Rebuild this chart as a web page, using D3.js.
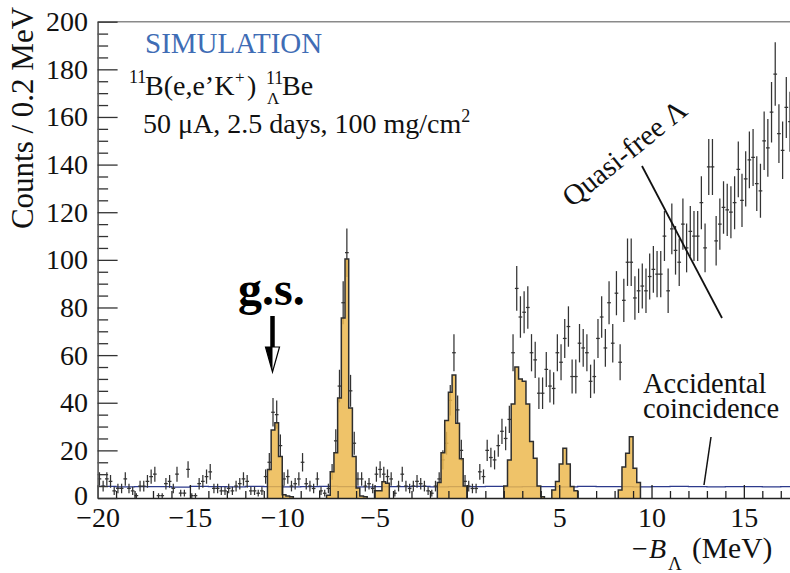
<!DOCTYPE html>
<html>
<head>
<meta charset="utf-8">
<script src="https://cdn.jsdelivr.net/npm/d3@7"></script>
<style>
  html, body { margin: 0; padding: 0; background: #fff; }
  svg { display: block; font-family: "Liberation Serif", "Times New Roman", serif; }
</style>
</head>
<body>
<svg id="chart" width="790" height="573"></svg>
<script>
// Histogram binning (MeV)
const binLow = -20;
const binWidth = 0.2;

// Simulated counts per 0.2 MeV bin, starting at -20 MeV
const counts = [
  8, 5, 8, 7, 3, 4, 4, 8, 4, 3,
  1, 5, 5, 7, 9, 10, 1, 1, 6, 7,
  4, 10, 2, 2, 12, 1, 1, 6, 7, 9,
  11, 4, 4, 3, 3, 4, 3, 5, 6, 8,
  7, 3, 3, 2, 3, 9, 15, 36, 35, 22,
  8, 9, 5, 6, 8, 15, 6, 5, 4, 8,
  3, 2, 4, 11, 24, 47, 82, 103, 45, 23,
  8, 8, 5, 6, 4, 10, 12, 10, 9, 8,
  2, 5, 10, 5, 4, 5, 7, 6, 5, 3,
  2, 5, 8, 16, 23, 41, 61, 37, 20, 7,
  5, 4, 4, 11, 9, 20, 17, 16, 22, 28,
  25, 33, 61, 88, 76, 78, 80, 61, 58, 44,
  44, 54, 47, 46, 61, 57, 67, 72, 51, 51,
  65, 63, 61, 49, 51, 67, 76, 63, 82, 65,
  86, 57, 83, 99, 99, 84, 87, 89, 87, 93,
  96, 94, 94, 110, 87, 113, 104, 99, 115, 105,
  112, 110, 110, 124, 105, 139, 139, 108, 115, 122,
  121, 120, 124, 138, 125, 134, 142, 143, 132, 129,
  150, 147, 162, 178, 153, 146, 164, 158
];

// Hypernuclear state peaks: low edge of first bin and counts per bin
const peakStarts = [-10.8, -7.6, -5.0, -1.6, 2.0, 4.6, 8.2];
const peakCounts = [
  [12, 28.6, 31.6, 17.4, 1.4, 0.8, 0.5],
  [1.2, 11, 19, 42, 75.6, 100.4, 37.8, 17.4, 4.2, 0.8, 0.5],
  [3, 3, 6.8, 6.2],
  [6.5, 19, 32.5, 44.4, 51.7, 31.4, 16.5, 5],
  [5, 16, 39.5, 55, 50, 49, 39.5, 23.7, 16.7, 5, 0.5],
  [3.4, 6.9, 14.3, 20.9, 14.3, 4.8, 3],
  [3.4, 13, 18.8, 25.7, 12.5, 6.5]
];

// Accidental coincidence level, one value per 1 MeV from -20 MeV
const accidentalStep = 1.0;
const accidentalLevel = [
  4.9, 4.7, 4.8, 4.8, 4.6, 4.9, 4.8, 4.7, 4.9, 4.8,
  4.7, 4.8, 4.9, 4.8, 4.7, 4.8, 4.8, 4.9, 4.7, 4.8,
  4.8, 4.9, 4.7, 4.8, 4.8, 4.7, 4.9, 4.8, 4.8, 4.7,
  4.8, 4.9, 4.8, 4.7, 4.8, 4.8, 4.7, 4.8
];

// Axis ticks
const xTicks = [-20, -15, -10, -5, 0, 5, 10, 15];
const xTickLabels = ["\u221220", "\u221215", "\u221210", "\u22125", "0", "5", "10", "15"];
const xMinorTicks = d3.range(-19, 18, 1).filter(v => v % 5 !== 0);
const yTicks = [0, 20, 40, 60, 80, 100, 120, 140, 160, 180, 200];
const yTickLabels = ["0", "20", "40", "60", "80", "100", "120", "140", "160", "180", "200"];
const yMinorTicks = d3.range(5, 200, 5).filter(v => v % 20 !== 0);

const svg = d3.select("#chart");
const W = 790, H = 573;
const plot = { left: 97.6, right: 790, top: 21.7, bottom: 498 };

const x = d3.scaleLinear().domain([-20, 17.5]).range([plot.left, plot.right]);
const y = d3.scaleLinear().domain([0, 200]).range([plot.bottom, plot.top]);

svg.append("rect").attr("width", W).attr("height", H).attr("fill", "#fff");

svg.append("defs").append("clipPath").attr("id", "plotClip")
  .append("rect")
  .attr("x", plot.left).attr("y", plot.top)
  .attr("width", plot.right - plot.left).attr("height", plot.bottom - plot.top);

// Frame top edge
svg.append("line")
  .attr("x1", plot.left).attr("x2", plot.right)
  .attr("y1", plot.top).attr("y2", plot.top)
  .attr("stroke", "#8a8a8a").attr("stroke-width", 1.6);

const inner = svg.append("g").attr("clip-path", "url(#plotClip)");

// Accidental coincidence background
const accPts = accidentalLevel.map((v, j) => [binLow + j * accidentalStep, v]);
accPts.push([binLow + accidentalLevel.length * accidentalStep, accidentalLevel[accidentalLevel.length - 1]]);
inner.append("path")
  .datum(accPts)
  .attr("fill", "none")
  .attr("stroke", "#2c3a8c")
  .attr("stroke-width", 1.3)
  .attr("d", d3.line().x(d => x(d[0])).y(d => y(d[1])).curve(d3.curveStepAfter));

// Data points with statistical error bars
const pts = counts.map((n, i) => ({ lo: binLow + i * binWidth, n }))
  .filter(d => d.n > 0);
const crosses = inner.append("g")
  .attr("stroke", "#333")
  .attr("stroke-width", 1.25);
crosses.selectAll("line.err").data(pts).join("line")
  .attr("class", "err")
  .attr("x1", d => x(d.lo + binWidth / 2)).attr("x2", d => x(d.lo + binWidth / 2))
  .attr("y1", d => y(d.n - Math.sqrt(d.n))).attr("y2", d => y(d.n + Math.sqrt(d.n)));
crosses.selectAll("line.bin").data(pts).join("line")
  .attr("class", "bin")
  .attr("x1", d => x(d.lo)).attr("x2", d => x(d.lo + binWidth))
  .attr("y1", d => y(d.n)).attr("y2", d => y(d.n));

// Hypernuclear state peaks
const peakLine = d3.line().x(d => x(d[0])).y(d => y(d[1])).curve(d3.curveStepAfter);
peakStarts.forEach((s, p) => {
  const vals = peakCounts[p];
  const end = s + vals.length * binWidth;
  const outline = [[s, 0]].concat(vals.map((v, i) => [s + i * binWidth, v]));
  outline.push([end, vals[vals.length - 1]]);
  outline.push([end, 0]);
  inner.append("path")
    .datum(outline)
    .attr("d", peakLine)
    .attr("fill", "#ecb94f")
    .attr("fill-opacity", 0.85)
    .attr("stroke", "#2e2e2e")
    .attr("stroke-width", 1.5)
    .attr("stroke-linejoin", "miter");
});

// Axes
function styleAxis(g, color) {
  g.attr("font-family", null).attr("font-size", null);
  g.selectAll("line").attr("stroke", color).attr("stroke-width", 1.3);
  g.selectAll("text").attr("fill", "#111").attr("font-size", 28)
    .attr("font-family", "'Liberation Serif', 'Times New Roman', serif");
}

const gxMinor = svg.append("g").attr("transform", `translate(0,${plot.bottom})`)
  .call(d3.axisBottom(x).tickValues(xMinorTicks).tickFormat("").tickSizeInner(-7).tickSizeOuter(0));
gxMinor.select(".domain").remove();
styleAxis(gxMinor, "#222");

const gx = svg.append("g").attr("transform", `translate(0,${plot.bottom})`)
  .call(d3.axisBottom(x).tickValues(xTicks).tickFormat((d, i) => xTickLabels[i])
    .tickSizeInner(-13).tickSizeOuter(0).tickPadding(9));
styleAxis(gx, "#222");
gx.select(".domain").attr("stroke", "#222").attr("stroke-width", 1.6);

const gyMinor = svg.append("g").attr("transform", `translate(${plot.left},0)`)
  .call(d3.axisLeft(y).tickValues(yMinorTicks).tickFormat("").tickSizeInner(-10.5).tickSizeOuter(0));
gyMinor.select(".domain").remove();
styleAxis(gyMinor, "#333");

const gy = svg.append("g").attr("transform", `translate(${plot.left},0)`)
  .call(d3.axisLeft(y).tickValues(yTicks).tickFormat((d, i) => yTickLabels[i])
    .tickSizeInner(-20).tickSizeOuter(0).tickPadding(9.6));
styleAxis(gy, "#333");
gy.select(".domain").attr("stroke", "#555").attr("stroke-width", 1.6);
// the zero label sits a touch higher so it clears the x labels
gy.selectAll(".tick").filter(d => d === 0).select("text").attr("dy", "0.22em");

// Axis titles
svg.append("text")
  .attr("transform", "translate(33,118) rotate(-90)")
  .attr("text-anchor", "middle")
  .attr("font-size", 31)
  .attr("fill", "#111")
  .text("Counts / 0.2 MeV");

const xt = svg.append("g").attr("fill", "#111");
xt.append("text").attr("x", 632).attr("y", 558).attr("font-size", 28).text("\u2212");
xt.append("text").attr("x", 649).attr("y", 558).attr("font-size", 28).attr("font-style", "italic").text("B");
xt.append("text").attr("x", 668).attr("y", 570).attr("font-size", 19).text("\u039B");
xt.append("text").attr("x", 692).attr("y", 558).attr("font-size", 29.5).text("(MeV)");

// Annotations
svg.append("text").attr("x", 145).attr("y", 53).attr("font-size", 29)
  .attr("fill", "#3f6db5").text("SIMULATION");

const rx = svg.append("g").attr("fill", "#111");
rx.append("text").attr("x", 129).attr("y", 83).attr("font-size", 18).text("11");
rx.append("text").attr("x", 145).attr("y", 95).attr("font-size", 28).text("B(e,e\u2019K");
rx.append("text").attr("x", 235).attr("y", 83).attr("font-size", 17).text("+");
rx.append("text").attr("x", 247).attr("y", 95).attr("font-size", 28).text(")");
rx.append("text").attr("x", 266).attr("y", 84).attr("font-size", 18).text("11");
rx.append("text").attr("x", 267).attr("y", 104).attr("font-size", 17).text("\u039B");
rx.append("text").attr("x", 282).attr("y", 95).attr("font-size", 28).text("Be");

const cond = svg.append("text").attr("x", 143).attr("y", 133).attr("font-size", 28).attr("fill", "#111");
cond.append("tspan").text("50 \u03BCA, 2.5 days, 100 mg/cm");
cond.append("tspan").attr("font-size", 18).attr("dy", -11).text("2");

// Ground state marker
svg.append("text").attr("x", 238).attr("y", 305).attr("font-size", 48)
  .attr("font-weight", "bold").attr("fill", "#000").text("g.s.");
svg.append("line").attr("x1", 272.5).attr("x2", 272.5).attr("y1", 316).attr("y2", 352)
  .attr("stroke", "#000").attr("stroke-width", 4.5);
svg.append("path").attr("d", "M265.5,347 L279.5,347 L272.5,372 Z")
  .attr("fill", "#fff").attr("stroke", "#000").attr("stroke-width", 1.2);
svg.append("path").attr("d", "M265.5,347 L272.5,347 L272.5,372 Z").attr("fill", "#000");

// Quasi-free label and pointer
svg.append("text")
  .attr("transform", "translate(572,208) rotate(-39)")
  .attr("font-size", 29).attr("fill", "#111")
  .text("Quasi-free \u039B");
svg.append("line").attr("x1", 642).attr("y1", 166).attr("x2", 722).attr("y2", 318)
  .attr("stroke", "#111").attr("stroke-width", 1.8);

// Accidental coincidence label and pointer
svg.append("text").attr("x", 643).attr("y", 393).attr("font-size", 28.5).attr("fill", "#111").text("Accidental");
svg.append("text").attr("x", 643).attr("y", 418).attr("font-size", 28.5).attr("fill", "#111").text("coincidence");
svg.append("line").attr("x1", 711).attr("y1", 437).attr("x2", 704).attr("y2", 485)
  .attr("stroke", "#111").attr("stroke-width", 1.5);
</script>
</body>
</html>
